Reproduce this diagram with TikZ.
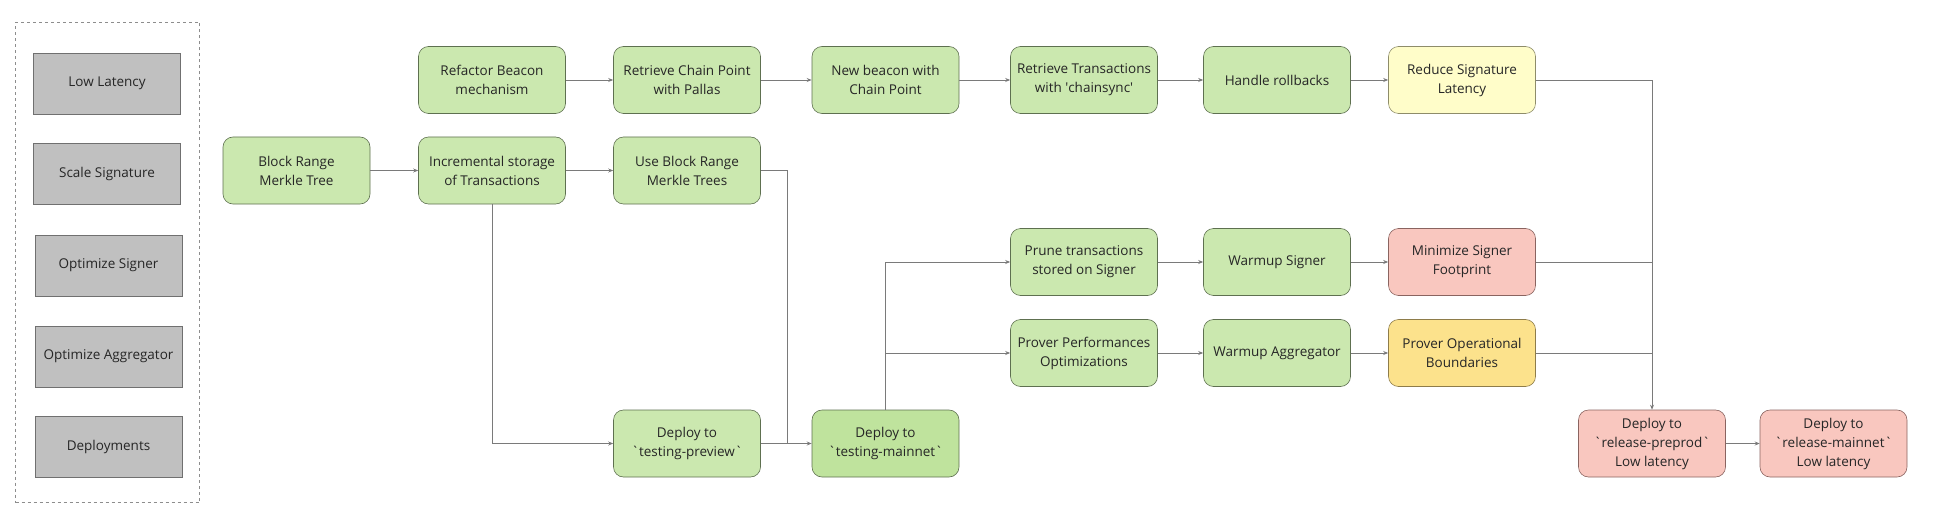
\documentclass[tikz,border=0pt]{standalone}
\usepackage{fontspec}
\setmainfont{Open Sans}
\usetikzlibrary{arrows.meta}
\definecolor{gfill}{HTML}{CBE8AF}
\definecolor{gfilld}{HTML}{BFE39D}
\definecolor{gstroke}{HTML}{5E7050}
\definecolor{yfill}{HTML}{FFFDC9}
\definecolor{ystroke}{HTML}{8E8C6A}
\definecolor{rfill}{HTML}{F9C7BF}
\definecolor{rstroke}{HTML}{8A6460}
\definecolor{ofill}{HTML}{FCE28C}
\definecolor{ostroke}{HTML}{8E7C4A}
\definecolor{grayfill}{HTML}{C0C0C0}
\definecolor{graystroke}{HTML}{707070}
\definecolor{linec}{HTML}{7A7A7A}
\definecolor{txt}{HTML}{262626}
\newcommand{\bq}{\textasciigrave}
\newcommand{\sq}{\textquotesingle}
\tikzset{
  task/.style={draw=gstroke, fill=gfill, rounded corners=10pt, minimum width=147pt,
    minimum height=67pt, align=center, inner sep=2pt, text=txt, font=\fontsize{13.5}{19}\selectfont, line width=0.6pt},
  taskd/.style={task, fill=gfilld},
  tasky/.style={task, draw=ystroke, fill=yfill},
  taskr/.style={task, draw=rstroke, fill=rfill},
  tasko/.style={task, draw=ostroke, fill=ofill},
  legendbox/.style={draw=graystroke, fill=grayfill, minimum width=147pt, minimum height=61pt,
    align=center, text=txt, font=\fontsize{13.5}{19}\selectfont, line width=0.8pt},
  conn/.style={draw=linec, line width=0.8pt},
  arr/.style={conn, -{Stealth[length=5pt,width=4pt]}},
}
\begin{document}
\begin{tikzpicture}[x=1pt,y=-1pt]
\useasboundingbox (0,0) rectangle (1935,516);
% legend
\node[draw=graystroke!80, dashed, line width=0.6pt, minimum width=184pt, minimum height=480pt] (legend) at (107.5,262.5) {};
\node[legendbox] (l1) at (107,83.5) {Low Latency};
\node[legendbox] (l2) at (107,174) {Scale Signature};
\node[legendbox] (l3) at (108.5,265.5) {Optimize Signer};
\node[legendbox] (l4) at (108.5,356.5) {Optimize Aggregator};
\node[legendbox] (l5) at (108.5,447) {Deployments};
% row 1
\node[task] (ref) at (492,80) {Refactor Beacon\\mechanism};
\node[task] (rcp) at (687,80) {Retrieve Chain Point\\with Pallas};
\node[task] (nb) at (885.5,80) {New beacon with\\Chain Point};
\node[task] (rtx) at (1084,80) {Retrieve Transactions\\with \sq chainsync\sq};
\node[task] (hr) at (1277,80) {Handle rollbacks};
\node[tasky] (rsl) at (1462,80) {Reduce Signature\\Latency};
% row 2
\node[task] (brm) at (296.5,170.5) {Block Range\\Merkle Tree};
\node[task] (inc) at (492,170.5) {Incremental storage\\of Transactions};
\node[task] (ubr) at (687,170.5) {Use Block Range\\Merkle Trees};
% row 3
\node[task] (prn) at (1084,262) {Prune transactions\\stored on Signer};
\node[task] (ws) at (1277,262) {Warmup Signer};
\node[taskr] (msf) at (1462,262) {Minimize Signer\\Footprint};
% row 4
\node[task] (ppo) at (1084,353) {Prover Performances\\Optimizations};
\node[task] (wa) at (1277,353) {Warmup Aggregator};
\node[tasko] (pob) at (1462,353) {Prover Operational\\Boundaries};
% row 5
\node[task] (tpv) at (687,443.5) {Deploy to\\\bq testing-preview\bq};
\node[taskd] (tmn) at (885.5,443.5) {Deploy to\\\bq testing-mainnet\bq};
\node[taskr] (rpp) at (1652,443.5) {Deploy to\\\bq release-preprod\bq\\Low latency};
\node[taskr] (rmn) at (1833.5,443.5) {Deploy to\\\bq release-mainnet\bq\\Low latency};
% connectors
\draw[arr] (ref) -- (rcp);
\draw[arr] (rcp) -- (nb);
\draw[arr] (nb) -- (rtx);
\draw[arr] (rtx) -- (hr);
\draw[arr] (hr) -- (rsl);
\draw[arr] (brm) -- (inc);
\draw[arr] (inc) -- (ubr);
\draw[arr] (inc.south) |- (tpv.west);
\coordinate (j1) at (787,443.5);
\draw[conn] (ubr.east) -| (j1);
\draw[arr] (tpv.east) -- (tmn.west);
\draw[arr] (tmn.north) |- (prn.west);
\draw[arr] (tmn.north) |- (ppo.west);
\draw[arr] (prn) -- (ws);
\draw[arr] (ws) -- (msf);
\draw[arr] (ppo) -- (wa);
\draw[arr] (wa) -- (pob);
\draw[arr] (rsl.east) -| (rpp.north);
\draw[conn] (msf.east) -- (msf.east -| rpp.north);
\draw[conn] (pob.east) -- (pob.east -| rpp.north);
\draw[arr] (rpp) -- (rmn);
\end{tikzpicture}
\end{document}
